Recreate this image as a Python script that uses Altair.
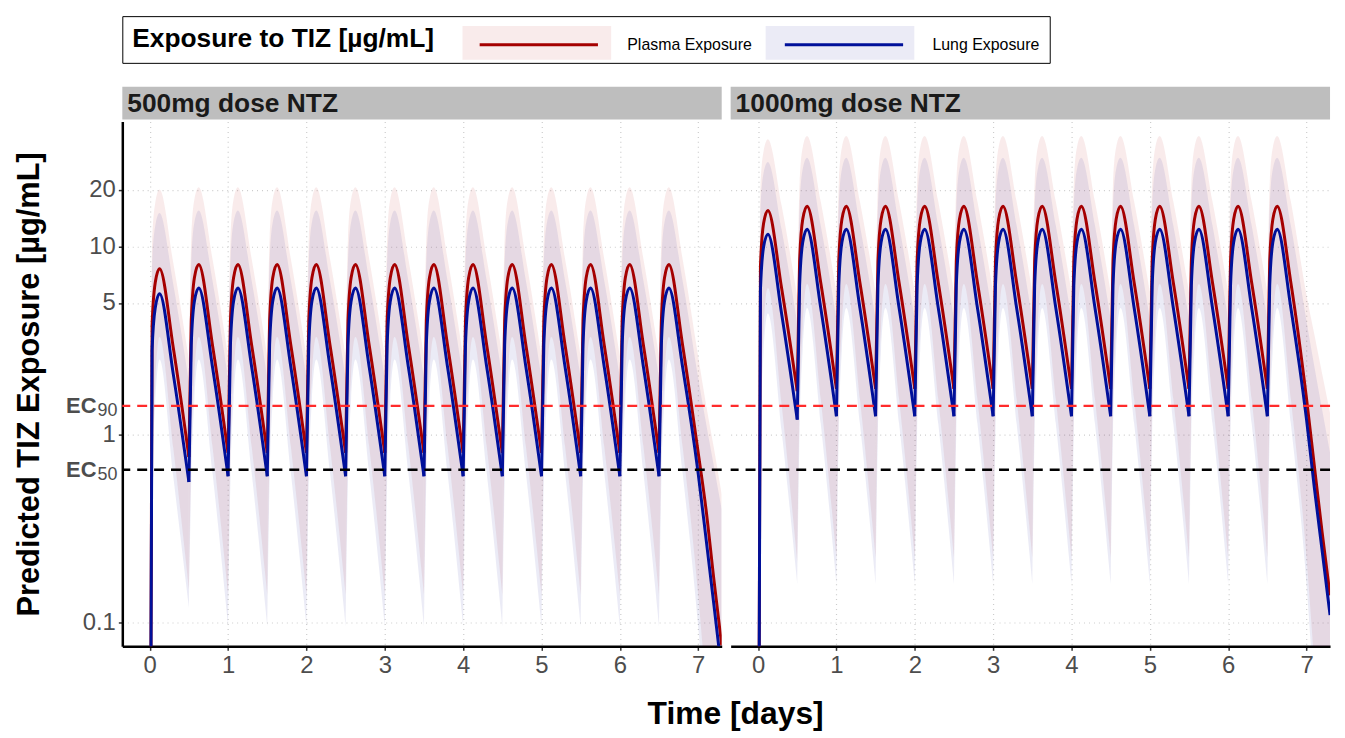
import altair as alt
import pandas as pd

FONT = "Liberation Sans"
SERIES = ["Plasma Exposure", "Lung Exposure"]
PANELS = ["500mg dose NTZ", "1000mg dose NTZ"]
LINE_COLORS = ["#A50000", "#00109A"]
FILL_COLORS = ["#B40000", "#00008C"]

# dosing every 12 h; values read at dose, rise, rise, peak, decay within each interval
DOSE_TIMES = [0.0, 0.5, 1.0, 1.5, 2.0, 2.5, 3.0, 3.5, 4.0, 4.5, 5.0, 5.5, 6.0, 6.5]
TOOTH_OFFSETS = [0.0, 0.03, 0.07, 0.125, 0.3]
TAIL_TIMES = [7.0, 7.1, 7.2, 7.3]
X_TICKS = [0, 1, 2, 3, 4, 5, 6, 7]
Y_TICKS = [0.1, 1, 5, 10, 20]
EC_LEVELS = [1.42, 0.65]
EC_SUBS = ["90", "50"]

# ---------------- 500 mg ----------------
P500 = [
    [0.001, 3.8, 6.4, 7.6, 2.9],
    [0.76, 4.0, 6.8, 8.0, 3.0],
    [0.80, 4.0, 6.8, 8.0, 3.0],
    [0.80, 4.0, 6.8, 8.0, 3.0],
    [0.80, 4.0, 6.8, 8.0, 3.0],
    [0.80, 4.0, 6.8, 8.0, 3.0],
    [0.80, 4.0, 6.8, 8.0, 3.0],
    [0.80, 4.0, 6.8, 8.0, 3.0],
    [0.80, 4.0, 6.8, 8.0, 3.0],
    [0.80, 4.0, 6.8, 8.0, 3.0],
    [0.80, 4.0, 6.8, 8.0, 3.0],
    [0.80, 4.0, 6.8, 8.0, 3.0],
    [0.80, 4.0, 6.8, 8.0, 3.0],
    [0.80, 4.0, 6.8, 8.0, 3.0],
]
P500_TAIL = [0.80, 0.40, 0.17, 0.076]
P500_LO = [
    [0.001, 0.75, 1.9, 3.3, 0.85],
    [0.15, 0.80, 2.05, 3.3, 0.87],
    [0.14, 0.80, 2.05, 3.3, 0.87],
    [0.14, 0.80, 2.05, 3.3, 0.87],
    [0.14, 0.80, 2.05, 3.3, 0.87],
    [0.14, 0.80, 2.05, 3.3, 0.87],
    [0.14, 0.80, 2.05, 3.3, 0.87],
    [0.14, 0.80, 2.05, 3.3, 0.87],
    [0.14, 0.80, 2.05, 3.3, 0.87],
    [0.14, 0.80, 2.05, 3.3, 0.87],
    [0.14, 0.80, 2.05, 3.3, 0.87],
    [0.14, 0.80, 2.05, 3.3, 0.87],
    [0.14, 0.80, 2.05, 3.3, 0.87],
    [0.14, 0.80, 2.05, 3.3, 0.87],
]
P500_LO_TAIL = [0.14, 0.045, 0.015, 0.006]
P500_HI = [
    [0.001, 10.5, 17.0, 20.0, 8.2],
    [2.5, 11.1, 17.8, 20.6, 8.6],
    [2.6, 11.1, 17.8, 20.6, 8.6],
    [2.6, 11.1, 17.8, 20.6, 8.6],
    [2.6, 11.1, 17.8, 20.6, 8.6],
    [2.6, 11.1, 17.8, 20.6, 8.6],
    [2.6, 11.1, 17.8, 20.6, 8.6],
    [2.6, 11.1, 17.8, 20.6, 8.6],
    [2.6, 11.1, 17.8, 20.6, 8.6],
    [2.6, 11.1, 17.8, 20.6, 8.6],
    [2.6, 11.1, 17.8, 20.6, 8.6],
    [2.6, 11.1, 17.8, 20.6, 8.6],
    [2.6, 11.1, 17.8, 20.6, 8.6],
    [2.6, 11.1, 17.8, 20.6, 8.6],
]
P500_HI_TAIL = [2.6, 1.45, 0.85, 0.48]

L500 = [
    [0.001, 2.8, 4.7, 5.6, 2.1],
    [0.56, 3.0, 5.1, 6.0, 2.3],
    [0.60, 3.0, 5.1, 6.0, 2.3],
    [0.60, 3.0, 5.1, 6.0, 2.3],
    [0.60, 3.0, 5.1, 6.0, 2.3],
    [0.60, 3.0, 5.1, 6.0, 2.3],
    [0.60, 3.0, 5.1, 6.0, 2.3],
    [0.60, 3.0, 5.1, 6.0, 2.3],
    [0.60, 3.0, 5.1, 6.0, 2.3],
    [0.60, 3.0, 5.1, 6.0, 2.3],
    [0.60, 3.0, 5.1, 6.0, 2.3],
    [0.60, 3.0, 5.1, 6.0, 2.3],
    [0.60, 3.0, 5.1, 6.0, 2.3],
    [0.60, 3.0, 5.1, 6.0, 2.3],
]
L500_TAIL = [0.62, 0.28, 0.125, 0.055]
L500_LO = [
    [0.001, 0.55, 1.45, 2.5, 0.60],
    [0.12, 0.57, 1.53, 2.5, 0.63],
    [0.095, 0.57, 1.53, 2.5, 0.63],
    [0.095, 0.57, 1.53, 2.5, 0.63],
    [0.095, 0.57, 1.53, 2.5, 0.63],
    [0.095, 0.57, 1.53, 2.5, 0.63],
    [0.095, 0.57, 1.53, 2.5, 0.63],
    [0.095, 0.57, 1.53, 2.5, 0.63],
    [0.095, 0.57, 1.53, 2.5, 0.63],
    [0.095, 0.57, 1.53, 2.5, 0.63],
    [0.095, 0.57, 1.53, 2.5, 0.63],
    [0.095, 0.57, 1.53, 2.5, 0.63],
    [0.095, 0.57, 1.53, 2.5, 0.63],
    [0.095, 0.57, 1.53, 2.5, 0.63],
]
L500_LO_TAIL = [0.095, 0.03, 0.01, 0.004]
L500_HI = [
    [0.001, 8.0, 12.8, 15.0, 6.3],
    [1.9, 8.4, 13.4, 15.5, 6.6],
    [2.0, 8.4, 13.4, 15.5, 6.6],
    [2.0, 8.4, 13.4, 15.5, 6.6],
    [2.0, 8.4, 13.4, 15.5, 6.6],
    [2.0, 8.4, 13.4, 15.5, 6.6],
    [2.0, 8.4, 13.4, 15.5, 6.6],
    [2.0, 8.4, 13.4, 15.5, 6.6],
    [2.0, 8.4, 13.4, 15.5, 6.6],
    [2.0, 8.4, 13.4, 15.5, 6.6],
    [2.0, 8.4, 13.4, 15.5, 6.6],
    [2.0, 8.4, 13.4, 15.5, 6.6],
    [2.0, 8.4, 13.4, 15.5, 6.6],
    [2.0, 8.4, 13.4, 15.5, 6.6],
]
L500_HI_TAIL = [2.0, 1.15, 0.68, 0.40]

# ---------------- 1000 mg ----------------
P1000 = [
    [0.001, 7.8, 13.2, 15.5, 6.0],
    [1.70, 8.3, 13.9, 16.3, 6.4],
    [1.75, 8.3, 13.9, 16.3, 6.4],
    [1.75, 8.3, 13.9, 16.3, 6.4],
    [1.75, 8.3, 13.9, 16.3, 6.4],
    [1.75, 8.3, 13.9, 16.3, 6.4],
    [1.75, 8.3, 13.9, 16.3, 6.4],
    [1.75, 8.3, 13.9, 16.3, 6.4],
    [1.75, 8.3, 13.9, 16.3, 6.4],
    [1.75, 8.3, 13.9, 16.3, 6.4],
    [1.75, 8.3, 13.9, 16.3, 6.4],
    [1.75, 8.3, 13.9, 16.3, 6.4],
    [1.75, 8.3, 13.9, 16.3, 6.4],
    [1.75, 8.3, 13.9, 16.3, 6.4],
]
P1000_TAIL = [1.55, 0.68, 0.30, 0.14]
P1000_LO = [
    [0.001, 1.30, 3.6, 6.0, 1.45],
    [0.21, 1.39, 3.8, 6.3, 1.54],
    [0.22, 1.39, 3.8, 6.3, 1.54],
    [0.22, 1.39, 3.8, 6.3, 1.54],
    [0.22, 1.39, 3.8, 6.3, 1.54],
    [0.22, 1.39, 3.8, 6.3, 1.54],
    [0.22, 1.39, 3.8, 6.3, 1.54],
    [0.22, 1.39, 3.8, 6.3, 1.54],
    [0.22, 1.39, 3.8, 6.3, 1.54],
    [0.22, 1.39, 3.8, 6.3, 1.54],
    [0.22, 1.39, 3.8, 6.3, 1.54],
    [0.22, 1.39, 3.8, 6.3, 1.54],
    [0.22, 1.39, 3.8, 6.3, 1.54],
    [0.22, 1.39, 3.8, 6.3, 1.54],
]
P1000_LO_TAIL = [0.22, 0.06, 0.018, 0.006]
P1000_HI = [
    [0.001, 20.5, 32.0, 37.0, 16.5],
    [5.4, 21.7, 33.6, 38.5, 17.3],
    [5.7, 21.7, 33.6, 38.5, 17.3],
    [5.7, 21.7, 33.6, 38.5, 17.3],
    [5.7, 21.7, 33.6, 38.5, 17.3],
    [5.7, 21.7, 33.6, 38.5, 17.3],
    [5.7, 21.7, 33.6, 38.5, 17.3],
    [5.7, 21.7, 33.6, 38.5, 17.3],
    [5.7, 21.7, 33.6, 38.5, 17.3],
    [5.7, 21.7, 33.6, 38.5, 17.3],
    [5.7, 21.7, 33.6, 38.5, 17.3],
    [5.7, 21.7, 33.6, 38.5, 17.3],
    [5.7, 21.7, 33.6, 38.5, 17.3],
    [5.7, 21.7, 33.6, 38.5, 17.3],
]
P1000_HI_TAIL = [5.5, 3.4, 2.1, 1.3]

L1000 = [
    [0.001, 5.8, 9.9, 11.6, 4.4],
    [1.20, 6.2, 10.5, 12.3, 4.7],
    [1.25, 6.2, 10.5, 12.3, 4.7],
    [1.25, 6.2, 10.5, 12.3, 4.7],
    [1.25, 6.2, 10.5, 12.3, 4.7],
    [1.25, 6.2, 10.5, 12.3, 4.7],
    [1.25, 6.2, 10.5, 12.3, 4.7],
    [1.25, 6.2, 10.5, 12.3, 4.7],
    [1.25, 6.2, 10.5, 12.3, 4.7],
    [1.25, 6.2, 10.5, 12.3, 4.7],
    [1.25, 6.2, 10.5, 12.3, 4.7],
    [1.25, 6.2, 10.5, 12.3, 4.7],
    [1.25, 6.2, 10.5, 12.3, 4.7],
    [1.25, 6.2, 10.5, 12.3, 4.7],
]
L1000_TAIL = [1.20, 0.52, 0.24, 0.11]
L1000_LO = [
    [0.001, 0.95, 2.7, 4.4, 1.05],
    [0.16, 1.03, 2.83, 4.7, 1.14],
    [0.16, 1.03, 2.83, 4.7, 1.14],
    [0.16, 1.03, 2.83, 4.7, 1.14],
    [0.16, 1.03, 2.83, 4.7, 1.14],
    [0.16, 1.03, 2.83, 4.7, 1.14],
    [0.16, 1.03, 2.83, 4.7, 1.14],
    [0.16, 1.03, 2.83, 4.7, 1.14],
    [0.16, 1.03, 2.83, 4.7, 1.14],
    [0.16, 1.03, 2.83, 4.7, 1.14],
    [0.16, 1.03, 2.83, 4.7, 1.14],
    [0.16, 1.03, 2.83, 4.7, 1.14],
    [0.16, 1.03, 2.83, 4.7, 1.14],
    [0.16, 1.03, 2.83, 4.7, 1.14],
]
L1000_LO_TAIL = [0.16, 0.04, 0.012, 0.004]
L1000_HI = [
    [0.001, 15.5, 24.5, 28.0, 12.3],
    [3.9, 16.3, 25.7, 29.5, 12.9],
    [4.1, 16.3, 25.7, 29.5, 12.9],
    [4.1, 16.3, 25.7, 29.5, 12.9],
    [4.1, 16.3, 25.7, 29.5, 12.9],
    [4.1, 16.3, 25.7, 29.5, 12.9],
    [4.1, 16.3, 25.7, 29.5, 12.9],
    [4.1, 16.3, 25.7, 29.5, 12.9],
    [4.1, 16.3, 25.7, 29.5, 12.9],
    [4.1, 16.3, 25.7, 29.5, 12.9],
    [4.1, 16.3, 25.7, 29.5, 12.9],
    [4.1, 16.3, 25.7, 29.5, 12.9],
    [4.1, 16.3, 25.7, 29.5, 12.9],
    [4.1, 16.3, 25.7, 29.5, 12.9],
]
L1000_HI_TAIL = [4.0, 2.3, 1.35, 0.8]

TABLES = {
    (PANELS[0], SERIES[0]): (P500, P500_LO, P500_HI, P500_TAIL, P500_LO_TAIL, P500_HI_TAIL),
    (PANELS[0], SERIES[1]): (L500, L500_LO, L500_HI, L500_TAIL, L500_LO_TAIL, L500_HI_TAIL),
    (PANELS[1], SERIES[0]): (P1000, P1000_LO, P1000_HI, P1000_TAIL, P1000_LO_TAIL, P1000_HI_TAIL),
    (PANELS[1], SERIES[1]): (L1000, L1000_LO, L1000_HI, L1000_TAIL, L1000_LO_TAIL, L1000_HI_TAIL),
}

rows = []
for (panel, series), (mt, lt, ht, mtail, ltail, htail) in TABLES.items():
    n = len(DOSE_TIMES)
    for k, t0 in enumerate(DOSE_TIMES):
        ts = [t0 + o for o in TOOTH_OFFSETS]
        ms, ls, hs = list(mt[k]), list(lt[k]), list(ht[k])
        if k < n - 1:
            ts = ts + [DOSE_TIMES[k + 1]]
            ms, ls, hs = ms + [mt[k + 1][0]], ls + [lt[k + 1][0]], hs + [ht[k + 1][0]]
        else:
            ts = ts + TAIL_TIMES
            ms, ls, hs = ms + mtail, ls + ltail, hs + htail
        for t, m, lo, hi in zip(ts, ms, ls, hs):
            rows.append({"panel": panel, "series": series, "seg": f"{series}-{k}",
                         "t": t, "mean": m, "lo": lo, "hi": hi})
data = pd.DataFrame(rows)

W, H = 603, 528
YTITLE = "Predicted TIZ Exposure [µg/mL]"
GRID = dict(grid=True, gridColor="#CCCCCC", gridDash=[1, 4], gridWidth=1.2)

xscale = alt.Scale(domain=[-0.35, 7.3], nice=False, zero=False)
yscale = alt.Scale(type="log", domain=[0.075, 46], nice=False)

xaxis = alt.Axis(values=X_TICKS, format="d", title=None, labelFontSize=24, labelColor="#4D4D4D",
                 labelPadding=3, tickSize=4, tickColor="#333333", tickWidth=1.5,
                 domainColor="black", domainWidth=2.5, labelFlush=False, **GRID)
yaxis_left = alt.Axis(values=Y_TICKS, format=".1~f", title=YTITLE, titleFontSize=31,
                      titleFontWeight="bold", titleColor="black", titlePadding=37,
                      labelFontSize=24, labelColor="#4D4D4D", labelPadding=3, tickSize=4,
                      tickColor="#333333", tickWidth=1.5, domainColor="black", domainWidth=2.5,
                      **GRID)
yaxis_right = alt.Axis(values=Y_TICKS, labels=False, ticks=False, domain=False, title=None, **GRID)

LEG_Y = -106
LEG_COMMON = dict(orient="none", legendY=LEG_Y, direction="horizontal", symbolSize=1156,
                  symbolOffset=57.5, padding=10)
# line legend: carries the visible title, labels and the frame
stroke_legend = alt.Legend(title="Exposure to TIZ [µg/mL]", legendX=0, titleOrient="left",
                           titleAnchor="middle", titleBaseline="middle", titleFont=FONT,
                           titleFontSize=26.5, titleFontWeight="bold", titleColor="black",
                           titleLimit=600, titlePadding=29, labelFont=FONT, labelFontSize=16,
                           labelColor="black", labelOffset=70.5, columnPadding=16,
                           symbolType="M-3.5,0H3.5", symbolStrokeWidth=3,
                           strokeColor="black", **LEG_COMMON)
# shaded boxes behind the line symbols
fill_legend = alt.Legend(title=None, legendX=332.5, labelExpr="''", labelOffset=0,
                         columnPadding=154, symbolType="M-4.4,-1H4.4V1H-4.4Z",
                         symbolStrokeWidth=0, symbolOpacity=0.08, **LEG_COMMON)


def make_panel(i):
    panel = PANELS[i]
    df = data[data["panel"] == panel]
    base = alt.Chart(df)
    yax = yaxis_left if i == 0 else yaxis_right
    x = alt.X("t:Q", scale=xscale, axis=xaxis)

    def Y(f):
        return alt.Y(f, scale=yscale, axis=yax)

    area = base.mark_area(opacity=0.08, interpolate="monotone", clip=True).encode(
        x=x, y=Y("lo:Q"), y2="hi:Q",
        fill=alt.Fill("series:N", scale=alt.Scale(domain=SERIES, range=FILL_COLORS),
                      legend=fill_legend),
        detail="seg:N")
    lines = [
        base.transform_filter(alt.datum.series == s).mark_line(
            strokeWidth=3, interpolate="monotone", clip=True).encode(
            x=x, y=Y("mean:Q"),
            stroke=alt.Stroke("series:N", sort="descending",
                              scale=alt.Scale(range=LINE_COLORS), legend=stroke_legend),
            detail="seg:N")
        for s in SERIES
    ]
    ec_df = pd.DataFrame({"level": EC_LEVELS, "main": ["EC", "EC"], "sub": EC_SUBS})
    ec = alt.Chart(ec_df)
    rule90 = ec.transform_filter(alt.datum.sub == "90").mark_rule(
        color="#FF2B2B", strokeDash=[10, 7], strokeWidth=2.5).encode(y=Y("level:Q"))
    rule50 = ec.transform_filter(alt.datum.sub == "50").mark_rule(
        color="black", strokeDash=[10, 7], strokeWidth=2.5).encode(y=Y("level:Q"))

    strip_df = pd.DataFrame({"panel": [panel]})
    strip = alt.Chart(strip_df).mark_rect(color="#BEBEBE").encode(
        x=alt.value(0), x2=alt.value(W), y=alt.value(-35), y2=alt.value(-2))
    strip_txt = alt.Chart(strip_df).mark_text(
        align="left", baseline="middle", fontSize=26.5, fontWeight="bold", font=FONT,
        color="#1A1A1A").encode(x=alt.value(5), y=alt.value(-18), text="panel:N")

    layers = [strip, strip_txt, area] + lines + [rule90, rule50]
    if i == 0:
        ec_main = ec.mark_text(align="right", baseline="middle", fontSize=22,
                               fontWeight="bold", font=FONT, color="#4D4D4D").encode(
            x=alt.value(-26), y=Y("level:Q"), text="main:N")
        ec_sub = ec.mark_text(align="right", baseline="middle", fontSize=18, dy=5,
                              font=FONT, color="#4D4D4D").encode(
            x=alt.value(-5), y=Y("level:Q"), text="sub:N")
        layers += [ec_main, ec_sub]
    return alt.layer(*layers).properties(
        width=W, height=H, view=alt.ViewBackground(stroke="transparent", strokeWidth=0))


chart = alt.hconcat(make_panel(0), make_panel(1), spacing=5).properties(
    title=alt.TitleParams("Time [days]", orient="bottom", anchor="middle", frame="group",
                          fontSize=32, fontWeight="bold", font=FONT, color="black",
                          offset=22, dx=617),
    padding={"left": 5, "top": 5, "right": 5, "bottom": 0},
).configure_view(stroke="transparent", strokeWidth=0).configure(font=FONT)

chart.save("out.html", embed_options={"renderer": "svg", "actions": False})
